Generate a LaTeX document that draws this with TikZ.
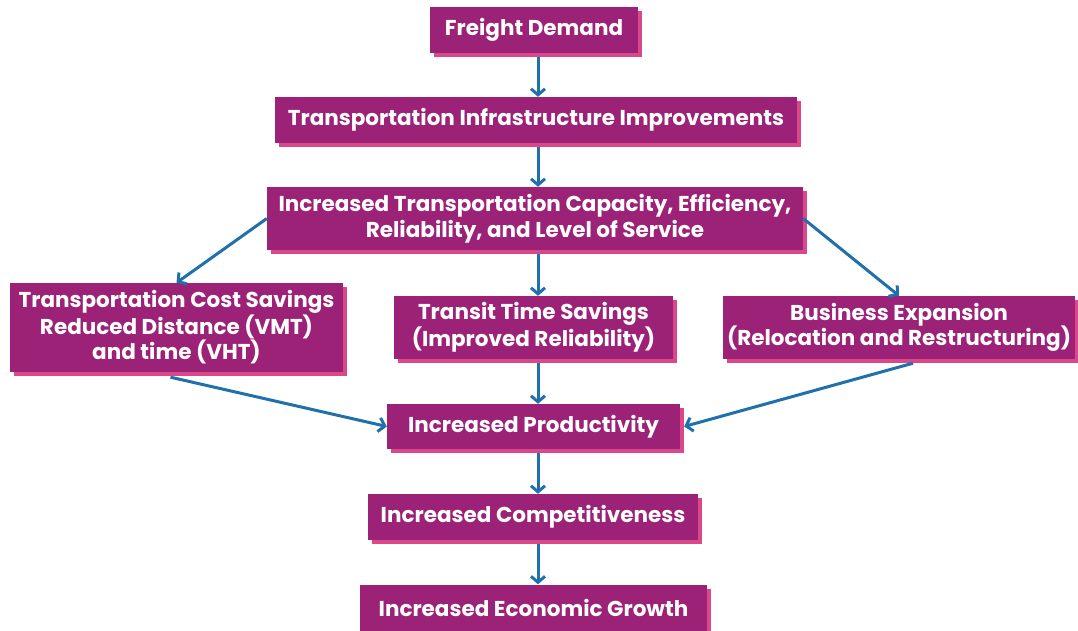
\documentclass[tikz,border=0pt]{standalone}
\usepackage{fontspec}
\setmainfont{Poppins}
\usetikzlibrary{arrows.meta,shadows}
\definecolor{boxpurple}{RGB}{155,34,118}
\definecolor{boxpink}{RGB}{219,72,138}
\definecolor{arrowblue}{RGB}{32,112,172}
\tikzset{
  stage/.style={rectangle, fill=boxpurple, text=white, align=center, inner sep=0pt,
    font=\bfseries\fontsize{21.5}{25.5}\selectfont,
    drop shadow={shadow xshift=4pt, shadow yshift=-4pt, fill=boxpink, opacity=1}},
  flow/.style={draw=arrowblue, line width=3pt, -{Straight Barb[length=6pt,width=14pt]}}
}

\begin{document}
\begin{tikzpicture}[x=1pt,y=-1pt]
\useasboundingbox (0,0) rectangle (1078,630);
\node[stage, minimum width=208pt, minimum height=46pt] (freight) at (534,30) {Freight Demand};
\node[stage, minimum width=522pt, minimum height=46pt] (infra) at (536,120) {Transportation Infrastructure Improvements};
\node[stage, minimum width=536pt, minimum height=63pt] (capacity) at (535,218.5) {Increased Transportation Capacity, Efficiency,\\Reliability, and Level of Service};
\node[stage, minimum width=333pt, minimum height=89pt] (cost) at (176.5,327.5) {Transportation Cost Savings\\Reduced Distance (VMT)\\and time (VHT)};
\node[stage, minimum width=279pt, minimum height=63pt] (transit) at (533.5,327.5) {Transit Time Savings\\(Improved Reliability)};
\node[stage, minimum width=352pt, minimum height=63pt] (business) at (899,327.5) {Business Expansion\\(Relocation and Restructuring)};
\node[stage, minimum width=293pt, minimum height=45pt] (product) at (533.5,426.5) {Increased Productivity};
\node[stage, minimum width=330pt, minimum height=46pt] (compet) at (533,517) {Increased Competitiveness};
\node[stage, minimum width=347pt, minimum height=46pt] (growth) at (533.5,607.5) {Increased Economic Growth};
\coordinate (spine) at (538,0);
\draw[flow] ([yshift=-4pt]freight.south -| spine) -- (infra.north -| spine);
\draw[flow] ([yshift=-4pt]infra.south -| spine) -- (capacity.north -| spine);
\draw[flow] ([yshift=-4pt]capacity.south -| spine) -- (transit.north -| spine);
\draw[flow] ([yshift=-4pt]transit.south -| spine) -- (product.north -| spine);
\draw[flow] ([yshift=-4pt]product.south -| spine) -- (compet.north -| spine);
\draw[flow] ([yshift=-4pt]compet.south -| spine) -- (growth.north -| spine);
\draw[flow] (capacity.west) -- (cost.north);
\draw[flow] (capacity.east) -- (business.north);
\draw[flow] ([xshift=-6pt,yshift=-5pt]cost.south) -- (product.west);
\draw[flow] ([xshift=14pt,yshift=-4pt]business.south) -- ([xshift=4pt]product.east);
\end{tikzpicture}
\end{document}
